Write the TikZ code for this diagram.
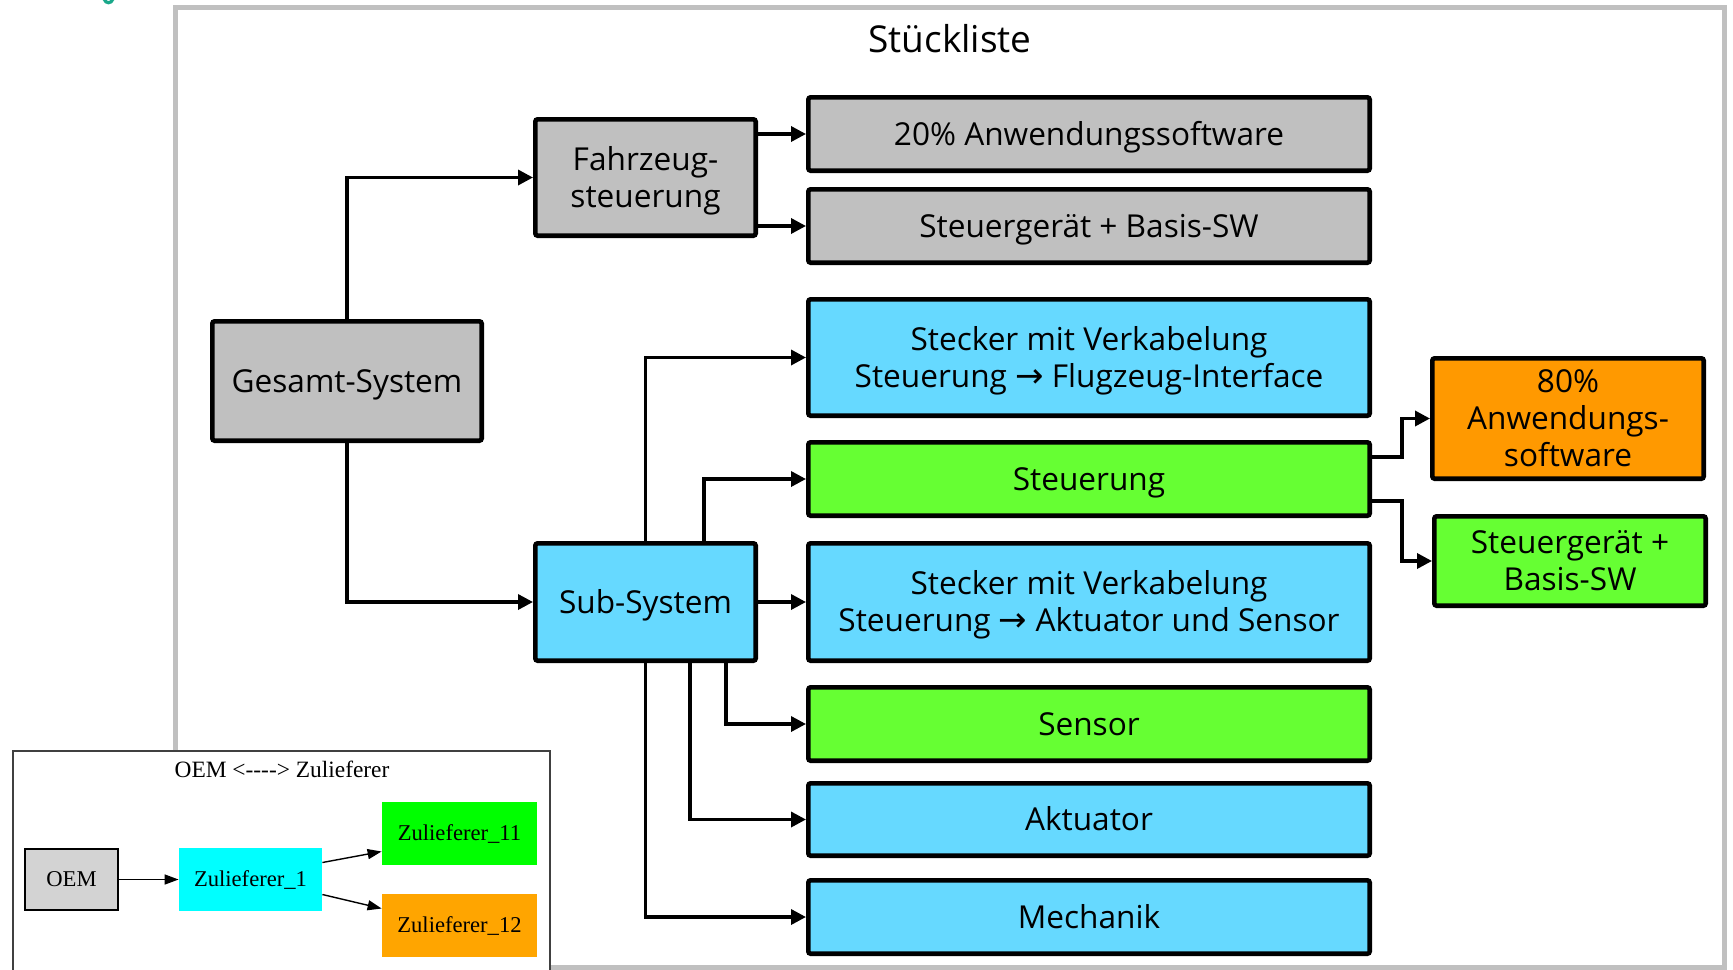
\documentclass[tikz,border=0pt]{standalone}
\usepackage{fontspec}
\setmainfont{Open Sans}
\newfontfamily\insetfont{Liberation Serif}
\newfontfamily\symfont{DejaVu Sans}
\usetikzlibrary{arrows.meta,calc}

\definecolor{boxgray}{HTML}{C0C0C0}
\definecolor{boxblue}{HTML}{66D9FF}
\definecolor{boxgreen}{HTML}{66FF33}
\definecolor{boxorange}{HTML}{FF9900}
\definecolor{framegray}{HTML}{C0C0C0}
\definecolor{insetedge}{HTML}{404040}
\definecolor{oemgray}{HTML}{D3D3D3}
\definecolor{zcyan}{HTML}{00FFFF}
\definecolor{zgreen}{HTML}{00FF00}
\definecolor{zorange}{HTML}{FFA500}
\definecolor{tealmark}{HTML}{1AA88A}

\tikzset{
  box/.style={draw=black, line width=2.3pt, rounded corners=1.2pt, inner sep=0pt,
    align=center, font=\fontsize{15.8}{18.4}\selectfont},
  graybox/.style={box, fill=boxgray},
  bluebox/.style={box, fill=boxblue},
  greenbox/.style={box, fill=boxgreen},
  orangebox/.style={box, fill=boxorange},
  colbox/.style={minimum width=280.7pt},
  conn/.style={line width=1.7pt, -{Triangle[length=7.5pt,width=7.5pt]}},
  ibox/.style={inner sep=0pt, font=\insetfont\fontsize{11.3}{13}\selectfont},
  iconn/.style={line width=0.7pt, -{Triangle[length=7pt,width=5pt]}},
}

% one text line whose box is centred on the capital letters
\newcommand{\bl}[1]{\rule[-3.56pt]{0pt}{18.4pt}\smash{#1}}
\newcommand{\rarr}{{\symfont\fontsize{17}{18}\selectfont\char"2192}}

\begin{document}
\begin{tikzpicture}[x=0.5pt,y=-0.5pt]
\useasboundingbox (0,0) rectangle (1733,969);

% stray mark at the upper left
\draw[tealmark, line width=1.6pt, line cap=round] (104,-1) .. controls (106,4) and (111,4) .. (113,-1);

% outer frame of the parts list
\draw[framegray, line width=2.5pt] (175.5,7) rectangle (1724,967);
\node[font=\fontsize{18.5}{22}\selectfont] (title) at (950,39) {Stückliste};

% main hierarchy
\node[graybox, minimum width=134.7pt, minimum height=59.7pt] (gesamt) at (347,381) {\bl{Gesamt-System}};
\node[graybox, minimum width=110.2pt, minimum height=58.2pt] (fahrzeug) at (645.5,177.5) {\bl{Fahrzeug-}\\\bl{steuerung}};
\node[bluebox, minimum width=110.2pt, minimum height=58.7pt] (subsys) at (645.5,602) {\bl{Sub-System}};

\node[graybox, colbox, minimum height=36.7pt] (sw20) at (1089,134) {\bl{20\% Anwendungssoftware}};
\node[graybox, colbox, minimum height=36.7pt] (sgbasis) at (1089,226) {\bl{Steuergerät + Basis-SW}};
\node[bluebox, colbox, minimum height=58.2pt] (steckerF) at (1089,357.5) {\bl{Stecker mit Verkabelung}\\\bl{Steuerung \rarr{} Flugzeug-Interface}};
\node[greenbox, colbox, minimum height=36.7pt] (steuerung) at (1089,479) {\bl{Steuerung}};
\node[bluebox, colbox, minimum height=58.7pt] (steckerA) at (1089,602) {\bl{Stecker mit Verkabelung}\\\bl{Steuerung \rarr{} Aktuator und Sensor}};
\node[greenbox, colbox, minimum height=36.7pt] (sensor) at (1089,724) {\bl{Sensor}};
\node[bluebox, colbox, minimum height=36.2pt] (aktuator) at (1089,819.5) {\bl{Aktuator}};
\node[bluebox, colbox, minimum height=36.7pt] (mechanik) at (1089,917) {\bl{Mechanik}};

\node[orangebox, minimum width=135.7pt, minimum height=60.2pt] (sw80) at (1568,418.5) {\bl{80\%}\\\bl{Anwendungs-}\\\bl{software}};
\node[greenbox, minimum width=135.7pt, minimum height=44.7pt] (sgbasis2) at (1570,561) {\bl{Steuergerät +}\\\bl{Basis-SW}};

% connectors
\draw[conn] (gesamt.north) |- (fahrzeug.west);
\draw[conn] (gesamt.south) |- (subsys.west);
\draw[conn] (fahrzeug.east |- sw20.west) -- (sw20.west);
\draw[conn] (fahrzeug.east |- sgbasis.west) -- (sgbasis.west);

\draw[conn] (subsys.north) |- (steckerF.west);
\draw[conn] ($(subsys.north)+(58.5,0)$) |- (steuerung.west);
\draw[conn] (subsys.east) -- (steckerA.west);
\draw[conn] ($(subsys.south)+(80.5,0)$) |- (sensor.west);
\draw[conn] ($(subsys.south)+(44.5,0)$) |- (aktuator.west);
\draw[conn] (subsys.south) |- (mechanik.west);

\coordinate (split) at (1402,0);
\draw[conn] ($(steuerung.east)+(0,-22)$) -| (split |- sw80.west) -- (sw80.west);
\draw[conn] ($(steuerung.east)+(0,22)$) -| (split |- sgbasis2.west) -- (sgbasis2.west);

% inset: OEM and supplier chain
\draw[insetedge, line width=1pt, fill=white] (12.5,750.5) rectangle (549.5,990);
\node[ibox, font=\insetfont\fontsize{11.7}{13}\selectfont] (ititle) at (282,769) {OEM <{-}{-}{-}{-}> Zulieferer};
\node[ibox, draw=black, line width=0.75pt, fill=oemgray, minimum width=46.5pt, minimum height=30.5pt] (oem) at (71.5,879.5) {OEM};
\node[ibox, fill=zcyan, minimum width=71.5pt, minimum height=31.5pt] (z1) at (250.5,879.5) {Zulieferer\_1};
\node[ibox, fill=zgreen, minimum width=77.5pt, minimum height=31.5pt] (z11) at (459.5,833.5) {Zulieferer\_11};
\node[ibox, fill=zorange, minimum width=77.5pt, minimum height=31.5pt] (z12) at (459.5,925.5) {Zulieferer\_12};

\draw[iconn] (oem.east) -- (z1.west);
\draw[iconn] ($(z1.east)+(0,-17)$) -- ($(z11.west)+(0,18)$);
\draw[iconn] ($(z1.east)+(0,15)$) -- ($(z12.west)+(0,-17)$);
\end{tikzpicture}
\end{document}
